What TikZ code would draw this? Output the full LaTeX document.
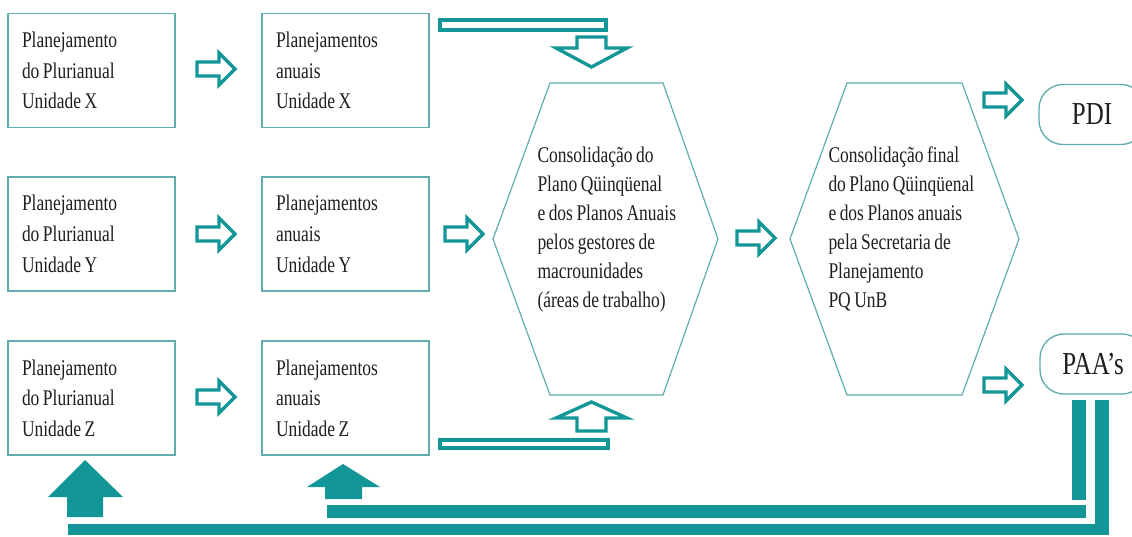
\documentclass[tikz,border=0pt]{standalone}
\usepackage{fontspec}
\setmainfont{Liberation Serif}[FakeStretch=0.78, WordSpace=0.8]
\definecolor{tealA}{RGB}{18,150,152}
\definecolor{tealB}{RGB}{96,172,174}
\definecolor{ink}{RGB}{30,30,30}

\tikzset{every picture/.style={line width=0.75pt}}
\tikzset{
  unitbox/.style={draw=tealB, line width=1.1pt, text=ink, font=\fontsize{16.8}{23}\selectfont,
    minimum width=125.25pt, minimum height=85.5pt, text width=104.25pt,
    inner xsep=10.5pt, inner ysep=0pt, align=flush left},
  hexline/.style={draw=tealB, line width=0.9pt},
  hextext/.style={text=ink, font=\fontsize{16.8}{21.75}\selectfont, align=left, inner sep=0pt, anchor=west},
  endbox/.style={draw=tealB, line width=1pt, rounded corners=18pt, text=ink,
    font=\fontsize{24}{24}\selectfont, minimum width=79.5pt, minimum height=45pt},
  hollowarrow/.style={draw=tealA, line width=2.5pt, fill=white, line join=miter},
  solidarrow/.style={fill=tealA},
}

\begin{document}
\begin{tikzpicture}[x=0.75pt,y=0.75pt,yscale=-1,xscale=1]
\useasboundingbox (0,0) rectangle (1132,536);
\clip (0,0) rectangle (1132,536);

%Shape: Rectangle (plurianual)
\node [unitbox] (pluX) at (91.5,70.5) {Planejamento\\do Plurianual\\Unidade X};
\node [unitbox] (pluY) at (91.5,234) {Planejamento\\do Plurianual\\Unidade Y};
\node [unitbox] (pluZ) at (91.5,398) {Planejamento\\do Plurianual\\Unidade Z};
%Shape: Rectangle (anuais)
\node [unitbox] (anuX) at (345.5,70.5) {Planejamentos\\anuais\\Unidade X};
\node [unitbox] (anuY) at (345.5,234) {Planejamentos\\anuais\\Unidade Y};
\node [unitbox] (anuZ) at (345.5,398) {Planejamentos\\anuais\\Unidade Z};

%Shape: Hexagon
\draw [hexline] (550,83) -- (663,83) -- (718,239) -- (663,395) -- (550,395) -- (493,239) -- cycle;
% Text Node
\node [hextext] (consA) at (537,230) {Consolidação do\\Plano Qüinqüenal\\e dos Planos Anuais\\pelos gestores de\\macrounidades\\(áreas de trabalho)};
%Shape: Hexagon
\draw [hexline] (847,83) -- (962,83) -- (1019,239) -- (962,395) -- (847,395) -- (790,239) -- cycle;
% Text Node
\node [hextext] (consB) at (828,229) {Consolidação final\\do Plano Qüinqüenal\\e dos Planos anuais\\pela Secretaria de\\Planejamento\\PQ UnB};

%Rounded Rect
\node [endbox] (pdi) at (1092,114.5) {PDI};
\node [endbox] (paa) at (1093,364) {PAA’s};

%Shape: Right Arrow
\draw [hollowarrow, shift={(197,69)}] (0,-7) -- (22,-7) -- (22,-16) -- (38,0) -- (22,16) -- (22,7) -- (0,7) -- cycle;
\draw [hollowarrow, shift={(197,234)}] (0,-7) -- (22,-7) -- (22,-16) -- (38,0) -- (22,16) -- (22,7) -- (0,7) -- cycle;
\draw [hollowarrow, shift={(197,397)}] (0,-7) -- (22,-7) -- (22,-16) -- (38,0) -- (22,16) -- (22,7) -- (0,7) -- cycle;
\draw [hollowarrow, shift={(445,234)}] (0,-7) -- (22,-7) -- (22,-16) -- (38,0) -- (22,16) -- (22,7) -- (0,7) -- cycle;
\draw [hollowarrow, shift={(737,238)}] (0,-7) -- (22,-7) -- (22,-16) -- (38,0) -- (22,16) -- (22,7) -- (0,7) -- cycle;
\draw [hollowarrow, shift={(984,100)}] (0,-7) -- (22,-7) -- (22,-16) -- (38,0) -- (22,16) -- (22,7) -- (0,7) -- cycle;
\draw [hollowarrow, shift={(984,385)}] (0,-7) -- (22,-7) -- (22,-16) -- (38,0) -- (22,16) -- (22,7) -- (0,7) -- cycle;

%Shape: Rectangle (hollow bars)
\draw [hollowarrow] (440,20) rectangle (606,30);
\draw [hollowarrow] (440,440) rectangle (608,448);
%Shape: Down Arrow
\draw [hollowarrow] (577,37) -- (606,37) -- (606,48) -- (627,48) -- (591.5,67) -- (556,48) -- (577,48) -- cycle;
%Shape: Up Arrow
\draw [hollowarrow] (577,431) -- (606,431) -- (606,418) -- (627,418) -- (591.5,402) -- (556,418) -- (577,418) -- cycle;

%Shape: Up Arrow (solid)
\fill [solidarrow] (67,517) -- (67,497) -- (48,497) -- (85,460) -- (123,497) -- (103,497) -- (103,517) -- cycle;
\fill [solidarrow] (325,499) -- (325,487) -- (307,487) -- (343,464) -- (380,487) -- (362,487) -- (362,499) -- cycle;

%Shape: Rectangle (feedback bars)
\fill [solidarrow] (68,524) rectangle (1109,535);
\fill [solidarrow] (327,505) rectangle (1086,518);
\fill [solidarrow] (1072,400) rectangle (1086,500);
\fill [solidarrow] (1095,400) rectangle (1109,535);

\end{tikzpicture}
\end{document}
